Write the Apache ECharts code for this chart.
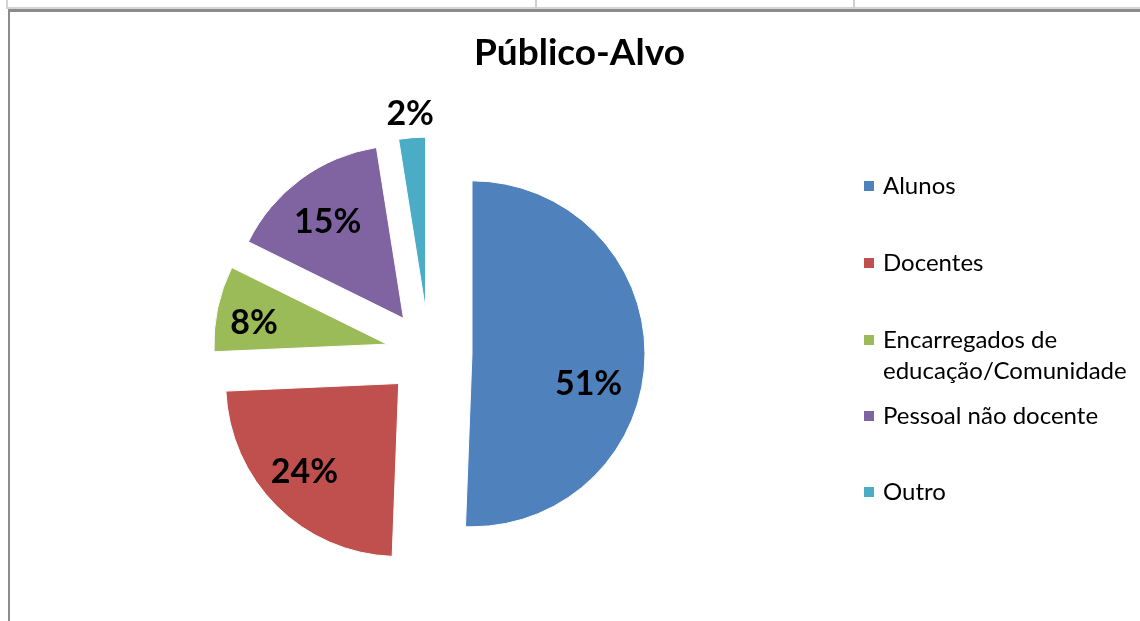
<!DOCTYPE html>
<html>
<head>
<meta charset="utf-8">
<script src="https://cdn.jsdelivr.net/npm/echarts@6/dist/echarts.min.js"></script>
<style>
  html, body { margin: 0; padding: 0; background: #fff; }
  #chart { width: 1140px; height: 621px; }
</style>
</head>
<body>
<div id="chart"></div>
<script>
// dados do gráfico (percentagens)
const categories = ['Alunos', 'Docentes', 'Encarregados de educação/Comunidade', 'Pessoal não docente', 'Outro'];
const values = [50.6, 23.7, 8.0, 15.2, 2.5];
const legendLabels = ['Alunos', 'Docentes', 'Encarregados de\neducação/Comunidade', 'Pessoal não docente', 'Outro'];

// estilos
const colors = ['#4F81BD', '#C0504D', '#9BBB59', '#8064A2', '#4BACC6'];
const legendTops = [186, 263, 340, 416, 492];
// posição das etiquetas: [fração do raio, desvio angular em graus]
const labelAt = [[0.68, 14], [0.73, 2], [0.76, -3], [0.69, -2], [1.12, 0]];

const FONT = 'Lato';
const CX = 429, CY = 353, R = 173, OFFSET = 43;

const chart = echarts.init(document.getElementById('chart'));

const total = values.reduce((a, b) => a + b, 0);
const cum = [];
values.reduce((acc, v, i) => { cum[i] = acc; return acc + v; }, 0);

// uma legenda por item, para o ícone ficar alinhado com a primeira linha
const legends = categories.map((name, i) => {
  const twoLines = legendLabels[i].indexOf('\n') >= 0;
  return {
    orient: 'vertical',
    left: 862,
    top: twoLines ? legendTops[i] - 46.5 : legendTops[i] - 15.5,
    padding: 0,
    itemWidth: 12,
    itemHeight: 12,
    icon: 'rect',
    selectedMode: false,
    data: [{ name: name, itemStyle: { color: colors[i] } }],
    formatter: () => (twoLines ? '\n' : '') + legendLabels[i],
    textStyle: {
      fontFamily: FONT,
      fontSize: 24,
      color: '#000',
      lineHeight: 31,
      padding: [0, 0, 0, 3]
    }
  };
});

const option = {
  animation: false,
  backgroundColor: '#fff',
  title: {
    text: 'Público-Alvo',
    left: 474,
    top: 32,
    padding: 0,
    textStyle: { fontFamily: FONT, fontSize: 37, fontWeight: 'bold', color: '#000', lineHeight: 42 }
  },
  legend: legends,
  graphic: [
    { type: 'rect', shape: { x: 535, y: 0, width: 2, height: 8 }, style: { fill: '#cfcfcf' }, silent: true },
    { type: 'rect', shape: { x: 853, y: 0, width: 2, height: 8 }, style: { fill: '#cfcfcf' }, silent: true },
    { type: 'rect', shape: { x: 6, y: 0, width: 2, height: 9 }, style: { fill: '#d4d4d4' }, silent: true },
    { type: 'rect', shape: { x: 6, y: 7, width: 1134, height: 2 }, style: { fill: '#d4d4d4' }, silent: true },
    { type: 'rect', shape: { x: 8, y: 9, width: 1132, height: 3 }, style: { fill: '#8c8c8c' }, silent: true },
    { type: 'rect', shape: { x: 8, y: 9, width: 2, height: 612 }, style: { fill: '#8c8c8c' }, silent: true }
  ],
  series: [{
    type: 'pie',
    center: [CX, CY],
    radius: R,
    startAngle: 90,
    clockwise: true,
    selectedMode: 'multiple',
    selectedOffset: OFFSET,
    percentPrecision: 0,
    avoidLabelOverlap: false,
    emphasis: { disabled: true },
    itemStyle: { borderColor: '#fff', borderWidth: 1 },
    label: {
      show: true,
      position: 'inside',
      formatter: '{d}%',
      fontFamily: FONT,
      fontSize: 34,
      fontWeight: 'bold',
      color: '#000'
    },
    labelLine: { show: false },
    // desloca cada etiqueta a partir da posição interior por omissão (meio raio)
    labelLayout: function (p) {
      const i = p.dataIndex;
      const mid = (cum[i] + values[i] / 2) / total * 2 * Math.PI;
      const a = mid + labelAt[i][1] * Math.PI / 180;
      const d = labelAt[i][0] * R;
      const d0 = R / 2;
      return {
        dx: d * Math.sin(a) - d0 * Math.sin(mid),
        dy: -d * Math.cos(a) + d0 * Math.cos(mid)
      };
    },
    data: categories.map((name, i) => ({
      name: name,
      value: values[i],
      selected: true,
      itemStyle: { color: colors[i] }
    }))
  }]
};

chart.setOption(option);
</script>
</body>
</html>
